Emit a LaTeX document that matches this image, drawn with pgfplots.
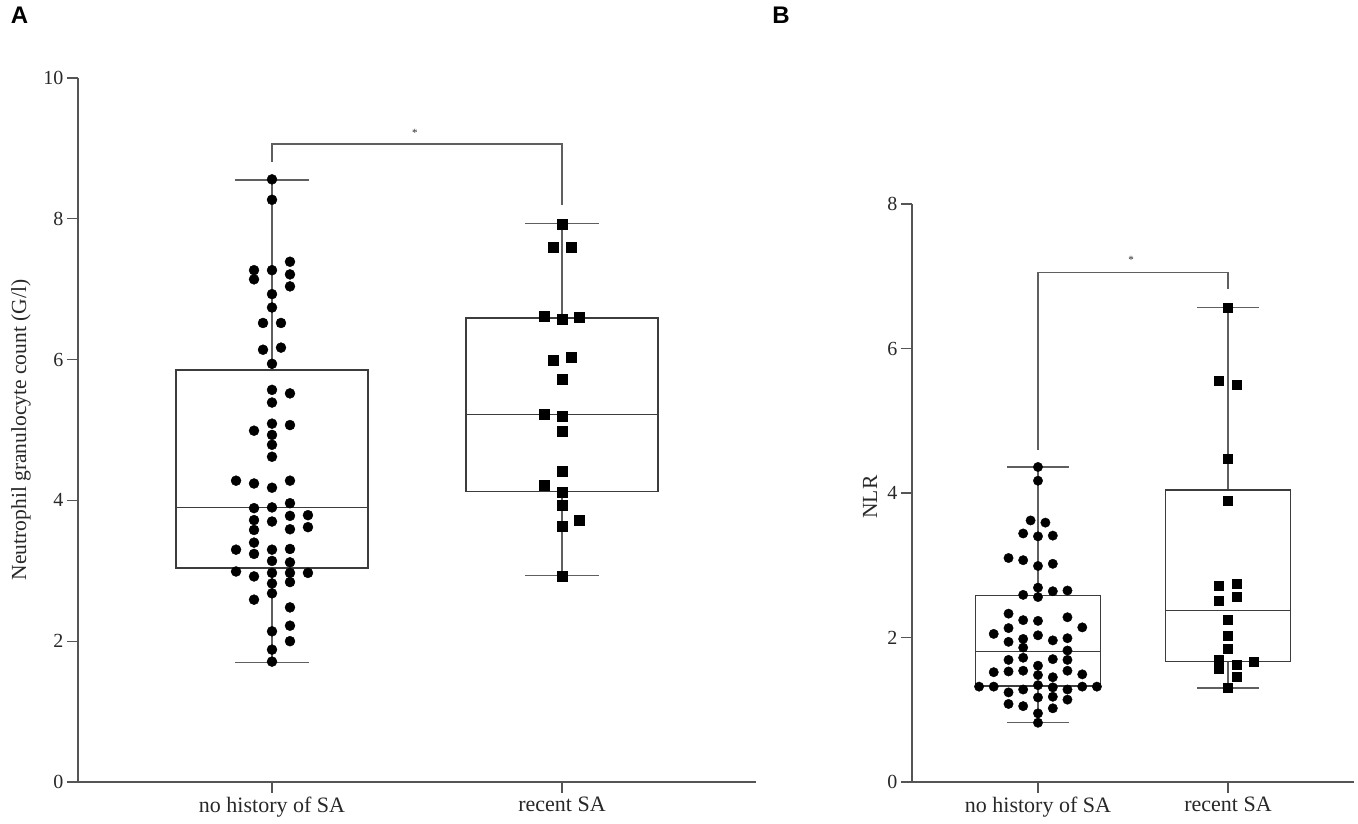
\documentclass[border=0pt]{standalone}
\usepackage{pgfplots}
\pgfplotsset{compat=1.18}
\usepackage{fontspec}
\setmainfont{Liberation Serif}
\newfontfamily\panelfont{Liberation Sans}
\definecolor{axc}{RGB}{85,85,85}
\definecolor{boxc}{RGB}{60,60,60}
\definecolor{whc}{RGB}{95,95,95}
\definecolor{txc}{RGB}{40,40,40}
\tikzset{
 boxln/.style={boxc, line width=1.4pt},
 whln/.style={whc, line width=1.4pt},
}
\pgfplotsset{
 panel/.style={
  scale only axis, clip=false,
  axis x line*=bottom, axis y line*=left,
  tick align=outside, major tick length=11pt,
  xtick={1,2}, xticklabels={no history of SA, recent SA},
  axis line style={line width=1.3pt, color=axc},
  tick style={line width=1.3pt, color=axc},
  minor tick num=0,
  /pgf/number format/assume math mode=true,
  yticklabel style={font=\fontsize{20}{24}\selectfont, color=txc},
  xticklabel style={font=\fontsize{22}{26}\selectfont, color=txc},
 },
}
\begin{document}
\begin{tikzpicture}
\useasboundingbox (0,0) rectangle (1358pt,824pt);
\node[font=\panelfont\bfseries\fontsize{24}{28}\selectfont] at (19.5pt,808.5pt) {A};
\node[font=\panelfont\bfseries\fontsize{24}{28}\selectfont] at (781pt,808.5pt) {B};
% ---------------- Panel A
\begin{axis}[panel, at={(78pt,42pt)}, anchor=south west,
  width=678pt, height=704pt,
  xmin=0.331, xmax=2.669, ymin=0, ymax=10, ytick={0,2,4,6,8,10},
  ylabel={Neutrophil granulocyte count (G/l)},
  every axis y label/.style={at={(axis description cs:-0.0841,0.5)}, rotate=90, anchor=center, font=\fontsize{21.5}{25}\selectfont, color=txc},
]
% whiskers group 1
\addplot[whln] coordinates {(1,5.85) (1,8.55)};
\addplot[whln] coordinates {(0.874,8.55) (1.126,8.55)};
\addplot[whln] coordinates {(1,3.04) (1,1.70)};
\addplot[whln] coordinates {(0.874,1.70) (1.126,1.70)};
% box group 1
\addplot[boxln] coordinates {(0.669,3.04) (1.331,3.04) (1.331,5.85) (0.669,5.85)} -- cycle;
\addplot[boxln] coordinates {(0.669,3.90) (1.331,3.90)};
% whiskers group 2
\addplot[whln] coordinates {(2,6.59) (2,7.93)};
\addplot[whln] coordinates {(1.874,7.93) (2.126,7.93)};
\addplot[whln] coordinates {(2,4.13) (2,2.93)};
\addplot[whln] coordinates {(1.874,2.93) (2.126,2.93)};
\addplot[boxln] coordinates {(1.669,4.13) (2.331,4.13) (2.331,6.59) (1.669,6.59)} -- cycle;
\addplot[boxln] coordinates {(1.669,5.22) (2.331,5.22)};
% points
\addplot[only marks, mark=*, mark size=5pt, black] coordinates {
(1,8.56)(1,8.27)
(0.938,7.27)(0.938,7.14)(1,7.27)(1.062,7.39)(1.062,7.21)(1.062,7.04)
(1,6.93)(1,6.74)(0.969,6.52)(1.031,6.52)(0.969,6.14)(1.031,6.17)(1,5.94)
(1,5.57)(1.062,5.52)(1,5.39)
(1,5.09)(1.062,5.07)(0.938,4.99)(1,4.93)(1,4.79)(1,4.62)
(0.876,4.28)(0.938,4.24)(1,4.18)(1.062,4.28)
(1.062,3.96)(0.938,3.89)(1,3.90)
(0.938,3.72)(1,3.70)(1.062,3.78)(1.124,3.79)
(0.938,3.58)(1.062,3.59)(1.124,3.62)
(0.938,3.40)
(0.876,3.30)(0.938,3.24)(1,3.30)(1.062,3.31)
(1,3.14)(1.062,3.12)
(0.876,2.99)(0.938,2.92)(1,2.97)(1.062,2.97)(1.124,2.97)
(1,2.82)(1.062,2.84)
(1,2.68)(0.938,2.59)(1.062,2.48)
(1.062,2.22)(1,2.14)(1.062,2.00)(1,1.88)(1,1.71)
};
\addplot[only marks, mark=square*, mark size=5pt, black] coordinates {
(2,7.93)(1.969,7.60)(2.031,7.60)(1.940,6.61)(2,6.57)(2.060,6.60)
(1.969,5.99)(2.031,6.04)(2,5.72)(1.940,5.23)(2,5.19)(2,4.98)
(2,4.41)(1.940,4.21)(2,4.12)(2,3.93)(2.060,3.72)(2,3.63)(2,2.93)
};
% significance
\draw[whln] (axis cs:1,8.81) |- (axis cs:2,9.06) -- (axis cs:2,8.20);
\node[font=\fontsize{11}{13}\selectfont, anchor=base, txc] at (axis cs:1.493,9.17) {*};
\end{axis}
% ---------------- Panel B
\begin{axis}[panel, at={(912pt,42pt)}, anchor=south west,
  width=442pt, height=578pt,
  xmin=0.337, xmax=2.663, ymin=0, ymax=8, ytick={0,2,4,6,8},
  ylabel={NLR},
  every axis y label/.style={at={(axis description cs:-0.095,0.493)}, rotate=90, anchor=center, font=\fontsize{21.5}{25}\selectfont, color=txc},
]
\addplot[whln] coordinates {(1,2.58) (1,4.36)};
\addplot[whln] coordinates {(0.837,4.36) (1.163,4.36)};
\addplot[whln] coordinates {(1,1.33) (1,0.82)};
\addplot[whln] coordinates {(0.837,0.82) (1.163,0.82)};
\addplot[boxln] coordinates {(0.671,1.33) (1.329,1.33) (1.329,2.58) (0.671,2.58)} -- cycle;
\addplot[boxln] coordinates {(0.671,1.81) (1.329,1.81)};
\addplot[whln] coordinates {(2,4.04) (2,6.57)};
\addplot[whln] coordinates {(1.837,6.57) (2.163,6.57)};
\addplot[whln] coordinates {(2,1.67) (2,1.30)};
\addplot[whln] coordinates {(1.837,1.30) (2.163,1.30)};
\addplot[boxln] coordinates {(1.671,1.67) (2.329,1.67) (2.329,4.04) (1.671,4.04)} -- cycle;
\addplot[boxln] coordinates {(1.671,2.37) (2.329,2.37)};
\addplot[only marks, mark=*, mark size=4.7pt, black] coordinates {
(1,4.36)(1,4.17)(0.961,3.62)(1.039,3.59)(0.922,3.44)(1,3.40)(1.078,3.41)
(0.845,3.10)(0.922,3.07)(1,2.99)(1.078,3.02)(1,2.69)(1.078,2.64)(1.155,2.65)
(0.922,2.59)(1,2.56)
(0.845,2.33)(0.922,2.24)(1,2.23)(1.155,2.28)(0.767,2.05)(0.845,2.13)(1.233,2.14)
(0.845,1.94)(0.922,1.98)(1,2.03)(1.078,1.96)(1.155,1.99)(0.922,1.86)(1.155,1.82)
(0.845,1.69)(0.922,1.72)(1.078,1.70)(1.155,1.69)
(0.767,1.52)(0.845,1.53)(0.922,1.54)(1,1.61)(1.155,1.54)(1.233,1.49)(1,1.48)(1.078,1.45)
(0.690,1.32)(0.767,1.32)(1,1.34)(1.078,1.31)(1.155,1.28)(1.233,1.32)(1.310,1.32)
(0.845,1.24)(0.922,1.28)(1,1.17)(1.078,1.18)(1.155,1.14)
(0.845,1.08)(0.922,1.05)(1.078,1.02)(1,0.95)(1,0.82)
};
\addplot[only marks, mark=square*, mark size=4.5pt, black] coordinates {
(2,6.57)(1.953,5.55)(2.047,5.50)(2,4.48)(2,3.90)(1.953,2.71)(2.047,2.75)
(1.953,2.51)(2.047,2.57)(2,2.25)(2,2.02)(2,1.85)(1.953,1.69)(1.953,1.57)
(2.047,1.62)(2.137,1.67)(2.047,1.46)(2,1.30)
};
\draw[whln] (axis cs:1,4.60) |- (axis cs:2,7.05) -- (axis cs:2,6.82);
\node[font=\fontsize{11}{13}\selectfont, anchor=base, txc] at (axis cs:1.49,7.175) {*};
\end{axis}
\end{tikzpicture}
\end{document}
